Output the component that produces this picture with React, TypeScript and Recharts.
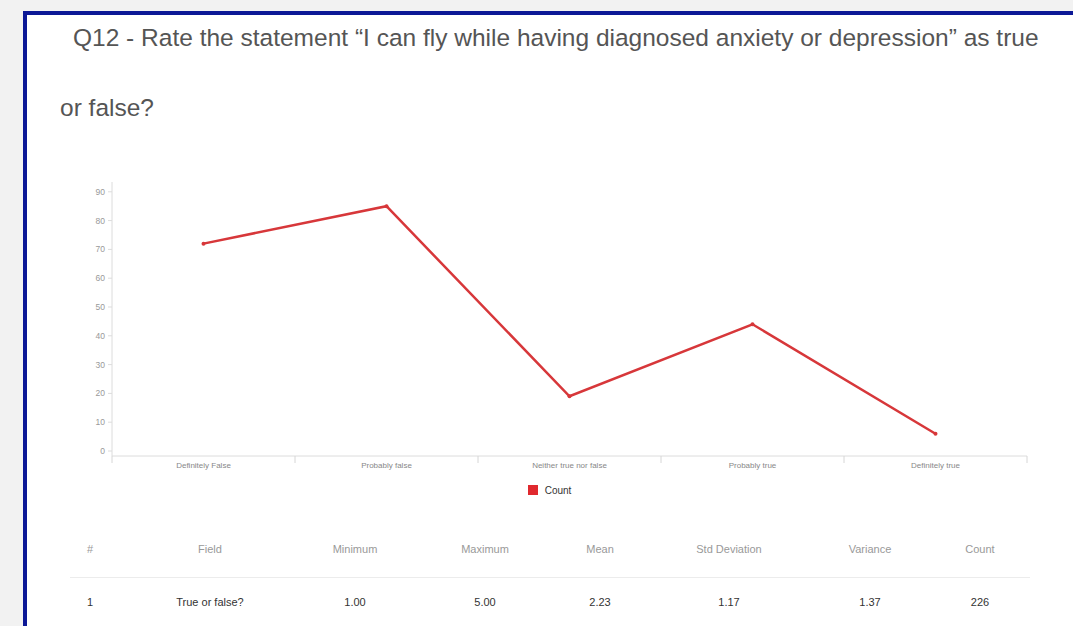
import React from 'react';
import { LineChart, Line, XAxis, YAxis, Legend } from 'recharts';

const categories = ['Definitely False', 'Probably false', 'Neither true nor false', 'Probably true', 'Definitely true'];
const counts = [72, 85, 19, 44, 6];
const yTicks = [0, 10, 20, 30, 40, 50, 60, 70, 80, 90];

const statHeaders = ['#', 'Field', 'Minimum', 'Maximum', 'Mean', 'Std Deviation', 'Variance', 'Count'];
const statRow = ['1', 'True or false?', '1.00', '5.00', '2.23', '1.17', '1.37', '226'];

const data = categories.map((name, i) => ({ name, Count: counts[i] }));

const LINE_RED = '#d7373a';
const CHART_W = 1073;
const CHART_H = 340;
const MARGIN = { top: 12, right: 46, left: 72, bottom: 10 };
const Y_WIDTH = 40;
const BAND = (CHART_W - MARGIN.left - MARGIN.right - Y_WIDTH) / categories.length;
const TICK_GAP = 6;

const colX = [90, 210, 355, 485, 600, 729, 870, 980];
const narrow = '"Liberation Sans Narrow", "Liberation Sans", Arial, sans-serif';

const CategoryTick = (props: any) => {
  const { x, y, payload, index } = props;
  const axisY = y - TICK_GAP;
  const left = x - BAND / 2;
  return (
    <g>
      <line x1={left} x2={left} y1={axisY} y2={axisY + 7} stroke="#d6d6d6" />
      {index === categories.length - 1 && (
        <line x1={x + BAND / 2} x2={x + BAND / 2} y1={axisY} y2={axisY + 7} stroke="#d6d6d6" />
      )}
      <text x={x} y={y} dy="0.71em" textAnchor="middle" fontSize={8} fill="#888" fontFamily={narrow}>
        {payload.value}
      </text>
    </g>
  );
};

const CountLegend = () => (
  <div style={{ display: 'flex', justifyContent: 'center', alignItems: 'center', height: 20 }}>
    <span style={{ width: 10, height: 10, background: '#e0292e', marginRight: 7, display: 'inline-block' }} />
    <span style={{ fontSize: 10, color: '#333', fontFamily: narrow }}>Count</span>
  </div>
);

export default function App() {
  return (
    <div style={{ position: 'fixed', left: 0, top: 0, width: 1073, height: 626, overflow: 'hidden', background: '#f2f2f2', fontFamily: '"Liberation Sans", Arial, sans-serif' }}>
      <div style={{ position: 'absolute', left: 23, top: 11, right: -20, bottom: -20, borderTop: '4px solid #0c1896', borderLeft: '4px solid #0c1896', background: '#fff' }} />

      <div style={{ position: 'absolute', left: 73, top: 20, fontSize: 24.5, color: '#555', whiteSpace: 'nowrap', lineHeight: '36px' }}>
        Q12 - Rate the statement “I can fly while having diagnosed anxiety or depression” as true
      </div>
      <div style={{ position: 'absolute', left: 60, top: 90, fontSize: 24.5, color: '#555', whiteSpace: 'nowrap', lineHeight: '36px' }}>
        or false?
      </div>

      <div style={{ position: 'absolute', left: 0, top: 170 }}>
        <LineChart width={CHART_W} height={CHART_H} data={data} margin={MARGIN}>
          <XAxis
            dataKey="name"
            scale="band"
            height={24}
            stroke="#dcdcdc"
            tickLine={false}
            tickSize={0}
            tickMargin={TICK_GAP}
            interval={0}
            tick={<CategoryTick />}
          />
          <YAxis
            width={Y_WIDTH}
            domain={[0, 93.4]}
            ticks={yTicks}
            padding={{ top: 0, bottom: 5 }}
            stroke="#dcdcdc"
            tickSize={4}
            tickMargin={3}
            tick={{ fontSize: 8.5, fill: '#999', fontFamily: narrow }}
          />
          <Legend verticalAlign="bottom" height={20} content={<CountLegend />} />
          <Line
            type="linear"
            dataKey="Count"
            stroke={LINE_RED}
            strokeWidth={2.5}
            dot={{ r: 2, fill: LINE_RED, stroke: 'none' }}
            activeDot={false}
            isAnimationActive={false}
          />
        </LineChart>
      </div>

      <div style={{ position: 'absolute', left: 70, top: 577, width: 960, height: 1, background: '#ececec' }} />
      {statHeaders.map((h, i) => (
        <div key={h} style={{ position: 'absolute', left: colX[i] - 60, top: 543, width: 120, textAlign: 'center', fontSize: 11, color: '#999', fontFamily: narrow }}>
          {h}
        </div>
      ))}
      {statRow.map((v, i) => (
        <div key={i} style={{ position: 'absolute', left: colX[i] - 60, top: 596, width: 120, textAlign: 'center', fontSize: 11, color: '#333', fontFamily: narrow }}>
          {v}
        </div>
      ))}
    </div>
  );
}
